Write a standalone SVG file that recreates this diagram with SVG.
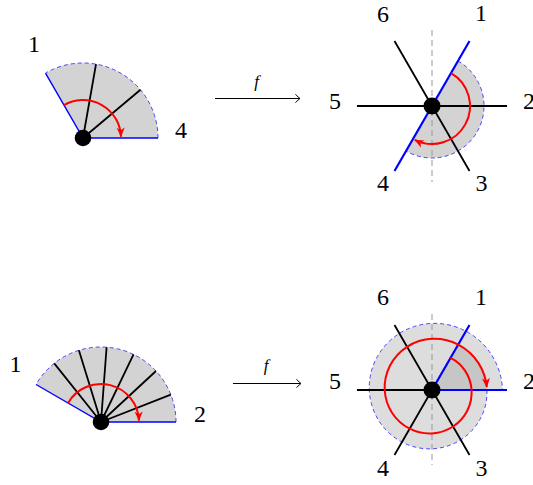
<svg xmlns="http://www.w3.org/2000/svg" width="533" height="485" viewBox="0 0 533 485">
<defs>
<marker id="redhead" viewBox="-10 -5 11 10" refX="0" refY="0" markerWidth="11" markerHeight="10" markerUnits="userSpaceOnUse" orient="auto">
<path d="M0.5,0 L-9,-4 L-6.5,0 L-9,4 Z" fill="#ff0000"/>
</marker>
</defs>
<style>
.lbl{font-family:'Liberation Serif','DejaVu Serif','Times New Roman',serif;font-size:24px;fill:#000;text-anchor:middle}
.fl{font-family:'Liberation Serif','DejaVu Serif','Times New Roman',serif;font-size:17px;font-style:italic;fill:#000;text-anchor:middle}
.fill1{fill:#d3d3d3;stroke:none}
.light{fill:#dddddd;stroke:none}
.dark{fill:#c6c6c6;stroke:none}
.dash{fill:none;stroke:#3333ff;stroke-width:0.9;stroke-dasharray:4 3}
.bedge{fill:none;stroke:#0000ff;stroke-width:1.4}
.bline{fill:none;stroke:#0000ff;stroke-width:2.2}
.spoke{fill:none;stroke:#000;stroke-width:1.8}
.axis{fill:none;stroke:#999;stroke-width:1;stroke-dasharray:6 4}
.red{fill:none;stroke:#ff0000;stroke-width:2;marker-end:url(#redhead)}
.dot{fill:#000}
.conn{fill:none;stroke:#000;stroke-width:1}
</style>

<g id="tl">
<path class="fill1" d="M83,138 L158,138 A75,75 0 0 0 45.5,73.05 Z"/>
<path class="dash" d="M158,138 A75,75 0 0 0 45.5,73.05"/>
<path class="bedge" d="M45.5,73.05 L83,138 L158,138"/>
<path class="spoke" d="M83,138 L140.45,89.79 M83,138 L96.02,64.14"/>
<path class="red" d="M64,105.09 A38,38 0 0 1 120.98,136.67"/>
<circle class="dot" cx="83" cy="138" r="8.3"/>
<text class="lbl" x="34" y="52" font-family="Liberation Serif, DejaVu Serif, serif">1</text>
<text class="lbl" x="181" y="138" font-family="Liberation Serif, DejaVu Serif, serif">4</text>
</g>

<g id="tr">
<path class="fill1" d="M432,106 L458,60.97 A52,52 0 0 1 484,106 A52,52 0 0 1 406,151.03 Z"/>
<path class="dash" d="M458,60.97 A52,52 0 0 1 484,106 A52,52 0 0 1 406,151.03"/>
<path class="axis" d="M432,30 V182"/>
<path class="spoke" d="M357,106 H507 M394.5,41.05 L469.5,170.95"/>
<path class="bline" d="M394.5,170.95 L469.5,41.05"/>
<path class="red" d="M451,73.09 A38,38 0 0 1 414.75,139.86"/>
<circle class="dot" cx="432" cy="106" r="8.5"/>
<text class="lbl" x="383" y="22" font-family="Liberation Serif, DejaVu Serif, serif">6</text>
<text class="lbl" x="481" y="21" font-family="Liberation Serif, DejaVu Serif, serif">1</text>
<text class="lbl" x="335" y="109" font-family="Liberation Serif, DejaVu Serif, serif">5</text>
<text class="lbl" x="529" y="109" font-family="Liberation Serif, DejaVu Serif, serif">2</text>
<text class="lbl" x="383" y="191" font-family="Liberation Serif, DejaVu Serif, serif">4</text>
<text class="lbl" x="481.5" y="191" font-family="Liberation Serif, DejaVu Serif, serif">3</text>
</g>

<g id="bl">
<path class="fill1" d="M101,422 L176,422 A75,75 0 0 0 36.05,384.5 Z"/>
<path class="dash" d="M176,422 A75,75 0 0 0 36.05,384.5"/>
<path class="bedge" d="M36.05,384.5 L101,422 L176,422"/>
<path class="spoke" d="M101,422 L170.82,394.6 M101,422 L155.98,370.99 M101,422 L133.54,354.43 M101,422 L106.6,347.21 M101,422 L78.89,350.33 M101,422 L54.24,363.36"/>
<path class="red" d="M68.09,403 A38,38 0 0 1 138.98,420.67"/>
<circle class="dot" cx="101" cy="422" r="8.3"/>
<text class="lbl" x="15.5" y="372" font-family="Liberation Serif, DejaVu Serif, serif">1</text>
<text class="lbl" x="200" y="422" font-family="Liberation Serif, DejaVu Serif, serif">2</text>
</g>

<g id="br">
<path class="light" d="M432,390 L458.15,344.71 A52.95,52.95 0 0 1 478.42,363.2 A54.25,54.25 0 0 1 486.9,390 A55.55,55.55 0 0 1 480.67,418.1 A56.85,56.85 0 0 1 460.75,439.8 A58.15,58.15 0 0 1 432,448.8 A59.45,59.45 0 0 1 401.95,442.05 A60.75,60.75 0 0 1 378.83,420.7 A62.05,62.05 0 0 1 369.3,390 A63.35,63.35 0 0 1 376.57,358 A64.65,64.65 0 0 1 399.35,333.45 A65.95,65.95 0 0 1 432,323.4 A67.25,67.25 0 0 1 465.95,331.2 A68.55,68.55 0 0 1 491.93,355.4 A69.85,69.85 0 0 1 502.5,390 Z"/>
<path class="dark" d="M432,390 L458.15,344.71 A52.95,52.95 0 0 1 478.42,363.2 A54.25,54.25 0 0 1 486.9,390 Z"/>
<path class="dash" d="M486.9,390 A55.55,55.55 0 0 1 480.67,418.1 A56.85,56.85 0 0 1 460.75,439.8 A58.15,58.15 0 0 1 432,448.8 A59.45,59.45 0 0 1 401.95,442.05 A60.75,60.75 0 0 1 378.83,420.7 A62.05,62.05 0 0 1 369.3,390 A63.35,63.35 0 0 1 376.57,358 A64.65,64.65 0 0 1 399.35,333.45 A65.95,65.95 0 0 1 432,323.4 A67.25,67.25 0 0 1 465.95,331.2 A68.55,68.55 0 0 1 491.93,355.4 A69.85,69.85 0 0 1 502.5,390"/>
<path class="axis" d="M432,314 V465"/>
<path class="spoke" d="M357,390 H432 M394.5,325.05 L469.5,454.95 M432,390 L394.5,454.95"/>
<path class="bline" d="M432,390 H507 M432,390 L469.5,325.05"/>
<path class="red" d="M450.5,357.96 A37.64,37.64 0 0 1 465.16,370.86 A38.93,38.93 0 0 1 471.57,390 A40.21,40.21 0 0 1 467.39,410.43 A41.5,41.5 0 0 1 453.07,426.5 A42.79,42.79 0 0 1 432,433.43 A44.07,44.07 0 0 1 409.64,428.72 A45.36,45.36 0 0 1 392.16,413 A46.64,46.64 0 0 1 384.71,390 A47.93,47.93 0 0 1 389.94,365.71 A49.21,49.21 0 0 1 407.07,346.82 A50.5,50.5 0 0 1 432,338.86 A51.79,51.79 0 0 1 458.21,344.6 A53.07,53.07 0 0 1 478.52,363.14 A54.3,54.3 0 0 1 486.8,387.13"/>
<circle class="dot" cx="432" cy="390" r="8.5"/>
<text class="lbl" x="383" y="305" font-family="Liberation Serif, DejaVu Serif, serif">6</text>
<text class="lbl" x="481" y="305" font-family="Liberation Serif, DejaVu Serif, serif">1</text>
<text class="lbl" x="335" y="389" font-family="Liberation Serif, DejaVu Serif, serif">5</text>
<text class="lbl" x="529" y="389" font-family="Liberation Serif, DejaVu Serif, serif">2</text>
<text class="lbl" x="383" y="475.5" font-family="Liberation Serif, DejaVu Serif, serif">4</text>
<text class="lbl" x="481.5" y="475.5" font-family="Liberation Serif, DejaVu Serif, serif">3</text>
</g>

<g id="connectors">
<path class="conn" d="M215,98.5 H299.5 M295.5,94.3 Q298.5,97.6 300,98.5 Q298.5,99.4 295.5,102.7"/>
<text class="fl" x="256.5" y="87" font-family="Liberation Serif, DejaVu Serif, serif">f</text>
<path class="conn" d="M233,383.5 H300.5 M296.5,379.3 Q299.5,382.6 301,383.5 Q299.5,384.4 296.5,387.7"/>
<text class="fl" x="266" y="371" font-family="Liberation Serif, DejaVu Serif, serif">f</text>
</g>
</svg>
